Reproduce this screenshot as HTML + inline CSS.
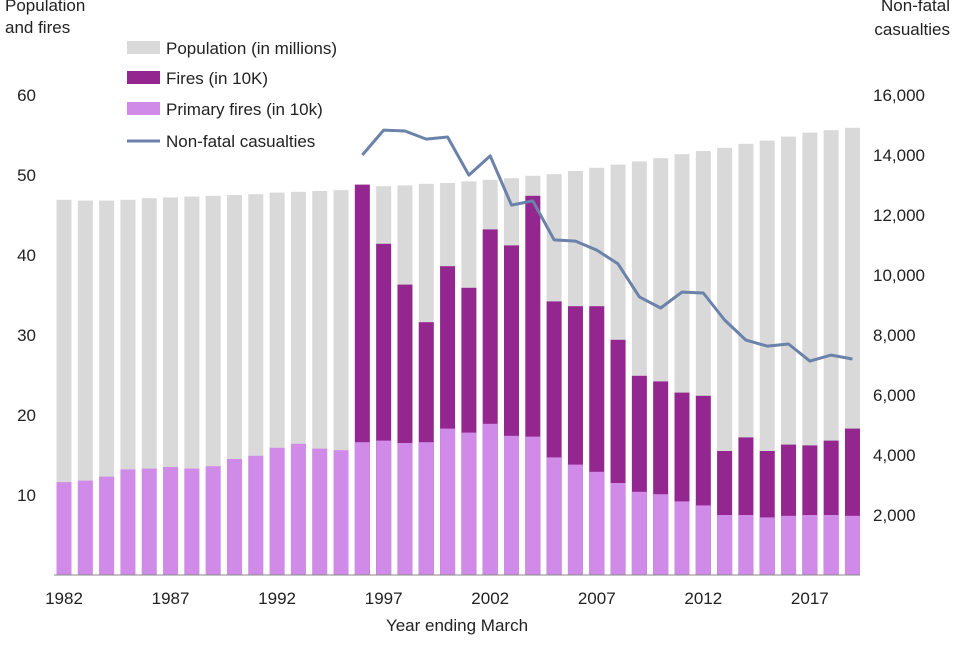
<!DOCTYPE html>
<html><head><meta charset="utf-8"><style>
body{margin:0;background:#fff}
svg text{font-family:"Liberation Sans",Arial,sans-serif;fill:#222}
</style></head><body>
<svg id="c" width="960" height="640">
<text x="5" y="11" font-size="17">Population</text>
<text x="5" y="33" font-size="17">and fires</text>
<text x="950" y="11" font-size="17" text-anchor="end">Non-fatal</text>
<text x="950" y="35" font-size="17" text-anchor="end">casualties</text>
<text x="457" y="631" font-size="17" text-anchor="middle">Year ending March</text>
<g id="legend">
<rect x="127" y="41" width="33" height="13" fill="#d9d9d9"/>
<text x="166" y="54" font-size="17">Population (in millions)</text>
<rect x="127" y="71" width="33" height="13" fill="#93278f"/>
<text x="166" y="84" font-size="17">Fires (in 10K)</text>
<rect x="127" y="102" width="33" height="13" fill="#d08be8"/>
<text x="166" y="115" font-size="17">Primary fires (in 10k)</text>
<line x1="127" y1="141" x2="160" y2="141" stroke="#6b82aa" stroke-width="3"/>
<text x="166" y="147" font-size="17">Non-fatal casualties</text>
</g>
</svg>
<script>
const years=[1982,1983,1984,1985,1986,1987,1988,1989,1990,1991,1992,1993,1994,1995,1996,1997,1998,1999,2000,2001,2002,2003,2004,2005,2006,2007,2008,2009,2010,2011,2012,2013,2014,2015,2016,2017,2018,2019];
const population=[46.9,46.8,46.8,46.9,47.1,47.2,47.3,47.4,47.5,47.6,47.8,47.9,48.0,48.1,48.3,48.6,48.7,48.9,49.0,49.2,49.4,49.6,49.9,50.1,50.5,50.9,51.3,51.7,52.1,52.6,53.0,53.4,53.9,54.3,54.8,55.3,55.6,55.9];
const fires=[null,null,null,null,null,null,null,null,null,null,null,null,null,null,48.8,41.4,36.3,31.6,38.6,35.9,43.2,41.2,47.4,34.2,33.6,33.6,29.4,24.9,24.2,22.8,22.4,15.5,17.2,15.5,16.3,16.2,16.8,18.3];
const primary=[11.6,11.8,12.3,13.2,13.3,13.5,13.3,13.6,14.5,14.9,15.9,16.4,15.8,15.6,16.6,16.8,16.5,16.6,18.3,17.8,18.9,17.4,17.3,14.7,13.8,12.9,11.5,10.4,10.1,9.2,8.7,7.5,7.5,7.2,7.4,7.5,7.5,7.4];
const casualties=[null,null,null,null,null,null,null,null,null,null,null,null,null,null,14000,14830,14800,14530,14600,13330,13970,12330,12470,11170,11130,10830,10370,9270,8900,9430,9400,8500,7830,7630,7700,7130,7330,7200];
const leftTicks=[10,20,30,40,50,60];
const rightTicks=[2000,4000,6000,8000,10000,12000,14000,16000];
const xTickYears=[1982,1987,1992,1997,2002,2007,2012,2017];
const NS='http://www.w3.org/2000/svg',svg=document.getElementById('c');
const x=i=>64+i*21.31, yL=v=>575-v*8, yR=v=>575-v*0.03;
function mk(t,a,p){const e=document.createElementNS(NS,t);for(const k in a)e.setAttribute(k,a[k]);(p||svg).appendChild(e);return e;}
const g=mk('g',{});


const bw=15;
years.forEach((yr,i)=>{
 let r=mk('rect',{x:x(i)-bw/2,y:yL(population[i]),width:bw,height:population[i]*8,fill:'#d9d9d9'},g);
 
 
 if(fires[i]!=null){r=mk('rect',{x:x(i)-bw/2,y:yL(fires[i]),width:bw,height:fires[i]*8,fill:'#93278f'},g);
 
 }
 r=mk('rect',{x:x(i)-bw/2,y:yL(primary[i]),width:bw,height:primary[i]*8,fill:'#d08be8'},g);
 
 
});
const pts=[];casualties.forEach((v,i)=>{if(v!=null)pts.push(x(i)+','+yR(v));});
const pl=mk('polyline',{points:pts.join(' '),fill:'none',stroke:'#6b82aa','stroke-width':3,'stroke-linejoin':'round'},g);


const ax=mk('line',{x1:54,y1:575,x2:860,y2:575,stroke:'#888','stroke-width':1});


leftTicks.forEach(v=>{const t=mk('text',{x:36,y:yL(v)+6,'font-size':17,'text-anchor':'end'});t.textContent=v;
 
 });
rightTicks.forEach(v=>{const t=mk('text',{x:873,y:yR(v)+6,'font-size':17});t.textContent=v.toLocaleString('en-US');
 
 });
xTickYears.forEach(yr=>{const i=years.indexOf(yr);const t=mk('text',{x:x(i),y:604,'font-size':17,'text-anchor':'middle'});t.textContent=yr;
 
 });
</script>
</body></html>
